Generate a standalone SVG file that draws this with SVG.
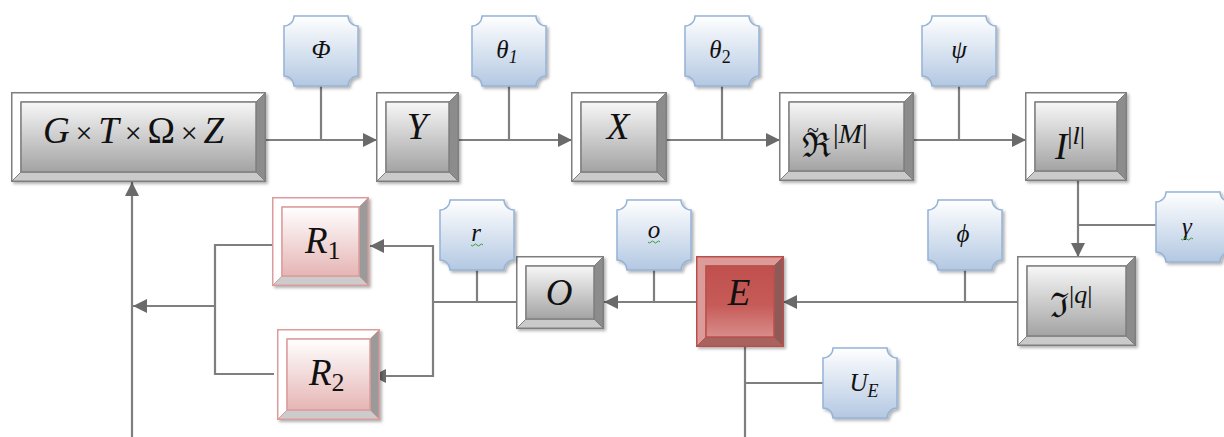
<svg xmlns="http://www.w3.org/2000/svg" xmlns:xlink="http://www.w3.org/1999/xlink" width="1224" height="437" viewBox="0 0 1224 437">
<style>
.outer{fill:#fff;stroke:#7f7f7f;stroke-width:2}
.tl{fill:#fff;stroke:#7f7f7f;stroke-width:1}
.rb{fill:#8c8c8c;stroke:#7f7f7f;stroke-width:1}
.bb{fill:#cacaca;stroke:#7f7f7f;stroke-width:1}
.face{fill:url(#gGray);stroke:#7f7f7f;stroke-width:1.5}
.eOuter{fill:#e2a3a1;stroke:#b8504c;stroke-width:2}
.eTl{fill:#dc9a98;stroke:#b8504c;stroke-width:1}
.eRb{fill:#8e5a58;stroke:#b8504c;stroke-width:1}
.eBb{fill:#a8625f;stroke:#b8504c;stroke-width:1}
.eFace{fill:url(#gRed);stroke:#b8504c;stroke-width:1.5}
.pOuter{fill:#fff;stroke:#dc9c9b;stroke-width:2}
.pTl{fill:#fff;stroke:#dc9c9b;stroke-width:1}
.pRb{fill:#9a9a9a;stroke:#dc9c9b;stroke-width:1}
.pBb{fill:#cccccc;stroke:#dc9c9b;stroke-width:1}
.pFace{fill:url(#gPink);stroke:#dc9c9b;stroke-width:1.5}
.plaque{fill:url(#gBlue);stroke:#95b3d7;stroke-width:1.5}
.big{font-family:"Liberation Serif","DejaVu Serif",serif;font-style:italic;font-size:37px;fill:#111}
.lbl{font-family:"Liberation Serif","DejaVu Serif",serif;font-style:italic;font-size:25px;fill:#111;text-anchor:middle}
.up{font-style:normal}
.conn{fill:none;stroke:#7f7f7f;stroke-width:2.2}
.sq{fill:none;stroke:#3a9a3a;stroke-width:1}
.sh{filter:url(#shadow)}
</style>
<defs>
<linearGradient id="gGray" x1="0" y1="0" x2="0" y2="1">
<stop offset="0" stop-color="#f7f7f7"/><stop offset="1" stop-color="#a3a3a3"/>
</linearGradient>
<linearGradient id="gRed" x1="0" y1="0" x2="0" y2="1">
<stop offset="0" stop-color="#c0504d"/><stop offset="0.55" stop-color="#c65b58"/><stop offset="1" stop-color="#d88d8b"/>
</linearGradient>
<linearGradient id="gPink" x1="0" y1="0" x2="0" y2="1">
<stop offset="0" stop-color="#ffffff"/><stop offset="1" stop-color="#e5b5b4"/>
</linearGradient>
<linearGradient id="gBlue" x1="0" y1="0" x2="0" y2="1">
<stop offset="0" stop-color="#ffffff"/><stop offset="1" stop-color="#b3c8e2"/>
</linearGradient>
<filter id="shadow" x="-10%" y="-10%" width="125%" height="125%">
<feDropShadow dx="2" dy="2" stdDeviation="1.5" flood-color="#000" flood-opacity="0.3"/>
</filter>
<path id="plq" d="M10,0 H64 A10,10 0 0 0 74,10 V60 A10,10 0 0 0 64,70 H10 A10,10 0 0 0 0,60 V10 A10,10 0 0 0 10,0 Z"/>
<marker id="arr" viewBox="0 0 14 14" refX="14" refY="7" markerWidth="14" markerHeight="14" markerUnits="userSpaceOnUse" orient="auto">
<path d="M0,0 L14,7 L0,14 Z" fill="#6a6a6a"/>
</marker>
</defs>

<g id="connectors">
<path class="conn" marker-end="url(#arr)" d="M265,140 H377"/>
<path class="conn" marker-end="url(#arr)" d="M458,140 H572"/>
<path class="conn" marker-end="url(#arr)" d="M666,140 H780"/>
<path class="conn" marker-end="url(#arr)" d="M913,140 H1026"/>
<path class="conn" d="M321,86 V140 M509,86 V140 M722,86 V140 M959,86 V140"/>
<path class="conn" marker-end="url(#arr)" d="M1078,180 V257"/>
<path class="conn" d="M1078,225 H1156"/>
<path class="conn" marker-end="url(#arr)" d="M1018,302 H783"/>
<path class="conn" d="M965,270 V302"/>
<path class="conn" marker-end="url(#arr)" d="M697,302 H604"/>
<path class="conn" d="M654,270 V302"/>
<path class="conn" d="M517,302 H433 M477,270 V302"/>
<path class="conn" marker-end="url(#arr)" d="M433,302 V246 H370"/>
<path class="conn" marker-end="url(#arr)" d="M433,302 V376 H372"/>
<path class="conn" d="M278,245 H215 V374 H274"/>
<path class="conn" marker-end="url(#arr)" d="M215,306 H133"/>
<path class="conn" marker-end="url(#arr)" d="M132,437 V182"/>
<path class="conn" d="M745,347 V437 M745,383 H823"/>
</g>

<g id="node-GTOZ">
<g class="sh"><rect class="outer" x="12" y="93" width="253" height="88"/></g>
<path class="tl" d="M12,93 H265 L256,102 H21 V172 L12,181 Z"/>
<path class="rb" d="M265,93 V181 L256,172 V102 Z"/>
<path class="bb" d="M12,181 H265 L256,172 H21 Z"/>
<rect class="face" x="21" y="102" width="235" height="70"/>
<text class="big" x="43" y="143" textLength="181" lengthAdjust="spacing">G<tspan class="up" font-size="30">×</tspan>T<tspan class="up" font-size="30">×</tspan><tspan class="up">Ω</tspan><tspan class="up" font-size="30">×</tspan>Z</text>
</g>

<g id="node-Y">
<g class="sh"><rect class="outer" x="377" y="93" width="81" height="88"/></g>
<path class="tl" d="M377,93 H458 L449,102 H386 V172 L377,181 Z"/>
<path class="rb" d="M458,93 V181 L449,172 V102 Z"/>
<path class="bb" d="M377,181 H458 L449,172 H386 Z"/>
<rect class="face" x="386" y="102" width="63" height="70"/>
<text class="big" x="417" y="139" text-anchor="middle">Y</text>
</g>

<g id="node-X">
<g class="sh"><rect class="outer" x="572" y="93" width="94" height="88"/></g>
<path class="tl" d="M572,93 H666 L657,102 H581 V172 L572,181 Z"/>
<path class="rb" d="M666,93 V181 L657,172 V102 Z"/>
<path class="bb" d="M572,181 H666 L657,172 H581 Z"/>
<rect class="face" x="581" y="102" width="76" height="70"/>
<text class="big" x="618" y="139" text-anchor="middle">X</text>
</g>

<g id="node-R-tilde-M">
<g class="sh"><rect class="outer" x="780" y="93" width="133" height="87"/></g>
<path class="tl" d="M780,93 H913 L904,102 H789 V171 L780,180 Z"/>
<path class="rb" d="M913,93 V180 L904,171 V102 Z"/>
<path class="bb" d="M780,180 H913 L904,171 H789 Z"/>
<rect class="face" x="789" y="102" width="115" height="69"/>
<text class="big" x="802" y="157"><tspan class="up" font-size="34">ℜ</tspan><tspan class="up" font-size="22" x="807" dy="-20">~</tspan><tspan font-size="28" x="833" dy="6" class="up">|</tspan><tspan font-size="28">M</tspan><tspan font-size="28" class="up">|</tspan></text>
</g>

<g id="node-I">
<g class="sh"><rect class="outer" x="1026" y="93" width="100" height="87"/></g>
<path class="tl" d="M1026,93 H1126 L1117,102 H1035 V171 L1026,180 Z"/>
<path class="rb" d="M1126,93 V180 L1117,171 V102 Z"/>
<path class="bb" d="M1026,180 H1126 L1117,171 H1035 Z"/>
<rect class="face" x="1035" y="102" width="82" height="69"/>
<text class="big" x="1055" y="159">I<tspan font-size="26" dy="-15" class="up">|</tspan><tspan font-size="26">l</tspan><tspan font-size="26" class="up">|</tspan></text>
</g>

<g id="node-Im-q">
<g class="sh"><rect class="outer" x="1018" y="257" width="117" height="88"/></g>
<path class="tl" d="M1018,257 H1135 L1126,266 H1027 V336 L1018,345 Z"/>
<path class="rb" d="M1135,257 V345 L1126,336 V266 Z"/>
<path class="bb" d="M1018,345 H1135 L1126,336 H1027 Z"/>
<rect class="face" x="1027" y="266" width="99" height="70"/>
<text class="big" x="1050" y="317"><tspan class="up" font-size="34">ℑ</tspan><tspan font-size="26" dy="-14" class="up">|</tspan><tspan font-size="26">q</tspan><tspan font-size="26" class="up">|</tspan></text>
</g>

<g id="node-E">
<g class="sh"><rect class="eOuter" x="697" y="257" width="86" height="89"/></g>
<path class="eTl" d="M697,257 H783 L774,266 H706 V337 L697,346 Z"/>
<path class="eRb" d="M783,257 V346 L774,337 V266 Z"/>
<path class="eBb" d="M697,346 H783 L774,337 H706 Z"/>
<rect class="eFace" x="706" y="266" width="68" height="71"/>
<text class="big" x="739" y="305" text-anchor="middle">E</text>
</g>

<g id="node-O">
<g class="sh"><rect class="outer" x="517" y="257" width="86" height="71"/></g>
<path class="tl" d="M517,257 H603 L594,266 H526 V319 L517,328 Z"/>
<path class="rb" d="M603,257 V328 L594,319 V266 Z"/>
<path class="bb" d="M517,328 H603 L594,319 H526 Z"/>
<rect class="face" x="526" y="266" width="68" height="53"/>
<text class="big" x="559" y="305" text-anchor="middle">O</text>
</g>

<g id="node-R1">
<g class="sh"><rect class="pOuter" x="273" y="198" width="95" height="87"/></g>
<path class="pTl" d="M273,198 H368 L359,207 H282 V276 L273,285 Z"/>
<path class="pRb" d="M368,198 V285 L359,276 V207 Z"/>
<path class="pBb" d="M273,285 H368 L359,276 H282 Z"/>
<rect class="pFace" x="282" y="207" width="77" height="69"/>
<text class="big" x="305" y="253">R<tspan class="up" font-size="26" dy="6">1</tspan></text>
</g>

<g id="node-R2">
<g class="sh"><rect class="pOuter" x="278" y="330" width="101" height="89"/></g>
<path class="pTl" d="M278,330 H379 L370,339 H287 V410 L278,419 Z"/>
<path class="pRb" d="M379,330 V419 L370,410 V339 Z"/>
<path class="pBb" d="M278,419 H379 L370,410 H287 Z"/>
<rect class="pFace" x="287" y="339" width="83" height="71"/>
<text class="big" x="309" y="385">R<tspan class="up" font-size="26" dy="6">2</tspan></text>
</g>

<g id="param-Phi">
<use href="#plq" class="plaque sh" x="284" y="16"/>
<text class="lbl" x="321" y="58">Φ</text>
</g>
<g id="param-theta1">
<use href="#plq" class="plaque sh" x="472" y="16"/>
<text class="lbl" x="507" y="58">θ<tspan font-size="18" dy="5">1</tspan></text>
</g>
<g id="param-theta2">
<use href="#plq" class="plaque sh" x="685" y="16"/>
<text class="lbl" x="720" y="58">θ<tspan class="up" font-size="18" dy="5">2</tspan></text>
</g>
<g id="param-psi">
<use href="#plq" class="plaque sh" x="922" y="16"/>
<text class="lbl" x="959" y="58">ψ</text>
</g>
<g id="param-r">
<use href="#plq" class="plaque sh" x="440" y="200"/>
<text class="lbl" x="476" y="241">r</text>
<path class="sq" d="M471,245 q1.5,2 3,0 t3,0 t3,0 t3,0"/>
</g>
<g id="param-o">
<use href="#plq" class="plaque sh" x="617" y="200"/>
<text class="lbl" x="654" y="238">o</text>
<path class="sq" d="M648,242 q1.5,2 3,0 t3,0 t3,0 t3,0"/>
</g>
<g id="param-phi">
<use href="#plq" class="plaque sh" x="928" y="200"/>
<text class="lbl" x="963" y="242">ϕ</text>
</g>
<g id="param-gamma">
<use href="#plq" class="plaque sh" x="1156" y="192"/>
<text class="lbl" x="1187" y="235">γ</text>
<path class="sq" d="M1181,239 q1.5,2 3,0 t3,0 t3,0 t3,0"/>
</g>
<g id="param-UE">
<use href="#plq" class="plaque sh" x="823" y="348"/>
<text class="lbl" x="864" y="391" font-size="24">U<tspan font-size="18" dy="6">E</tspan></text>
</g>
</svg>
